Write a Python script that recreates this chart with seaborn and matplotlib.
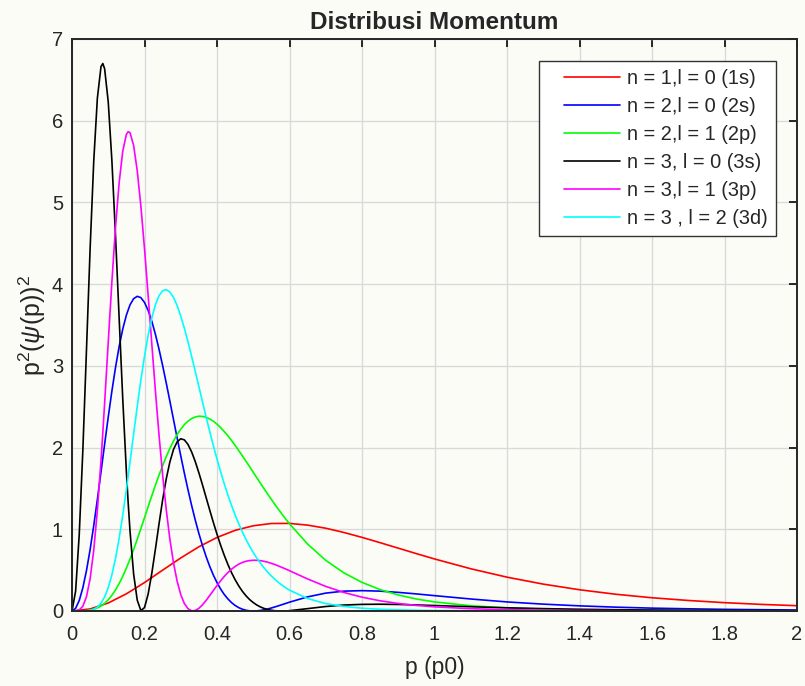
import matplotlib
matplotlib.use("Agg")
import matplotlib.pyplot as plt
from matplotlib.lines import Line2D
from matplotlib.legend_handler import HandlerLine2D
import numpy as np
import seaborn as sns

p_1s = [0, 0.05, 0.1, 0.15, 0.2, 0.25, 0.3, 0.35, 0.4, 0.45, 0.5, 0.55, 0.6, 0.65,
        0.7, 0.75, 0.8, 0.85, 0.9, 0.95, 1.0, 1.1, 1.2, 1.3, 1.4, 1.5, 1.6, 1.7,
        1.8, 1.9, 2.0]
p_grid = [0.00, 0.01, 0.02, 0.03, 0.04, 0.05, 0.06, 0.07, 0.08, 0.09,
          0.10, 0.11, 0.12, 0.13, 0.14, 0.15, 0.16, 0.17, 0.18, 0.19,
          0.20, 0.21, 0.22, 0.23, 0.24, 0.25, 0.26, 0.27, 0.28, 0.29,
          0.30, 0.31, 0.32, 0.33, 0.34, 0.35, 0.36, 0.37, 0.38, 0.39,
          0.40, 0.41, 0.42, 0.43, 0.44, 0.45, 0.46, 0.47, 0.48, 0.49,
          0.50, 0.51, 0.52, 0.53, 0.54, 0.55, 0.56, 0.57, 0.58, 0.59,
          0.60, 0.65, 0.70, 0.75, 0.80, 0.85, 0.90, 0.95, 1.00,
          1.1, 1.2, 1.3, 1.4, 1.5, 1.6, 1.7, 1.8, 1.9, 2.0]
# same, with two extra reads at the sharp n = 3 peaks
p_fine = [0.00, 0.01, 0.02, 0.03, 0.04, 0.05, 0.06, 0.07, 0.08, 0.085, 0.09,
          0.10, 0.11, 0.12, 0.13, 0.14, 0.15, 0.155, 0.16, 0.17, 0.18, 0.19,
          0.20, 0.21, 0.22, 0.23, 0.24, 0.25, 0.26, 0.27, 0.28, 0.29,
          0.30, 0.31, 0.32, 0.33, 0.34, 0.35, 0.36, 0.37, 0.38, 0.39,
          0.40, 0.41, 0.42, 0.43, 0.44, 0.45, 0.46, 0.47, 0.48, 0.49,
          0.50, 0.51, 0.52, 0.53, 0.54, 0.55, 0.56, 0.57, 0.58, 0.59,
          0.60, 0.65, 0.70, 0.75, 0.80, 0.85, 0.90, 0.95, 1.00,
          1.1, 1.2, 1.3, 1.4, 1.5, 1.6, 1.7, 1.8, 1.9, 2.0]

# p^2 |psi(p)|^2 for each state
prob_1s = [0, 0.025, 0.098, 0.210, 0.348, 0.500, 0.649, 0.786, 0.900, 0.987, 1.043,
           1.071, 1.072, 1.051, 1.013, 0.961, 0.901, 0.836, 0.769, 0.702, 0.637,
           0.517, 0.414, 0.329, 0.260, 0.205, 0.162, 0.129, 0.102, 0.081, 0.065]
prob_2s = [0, 0.033, 0.129, 0.285, 0.496, 0.752, 1.046, 1.366, 1.702, 2.042,
           2.374, 2.690, 2.979, 3.235, 3.450, 3.621, 3.746, 3.822, 3.851, 3.835,
           3.776, 3.679, 3.548, 3.388, 3.205, 3.004, 2.790, 2.569, 2.343, 2.119,
           1.899, 1.686, 1.483, 1.292, 1.113, 0.949, 0.800, 0.665, 0.545, 0.439,
           0.347, 0.269, 0.202, 0.148, 0.103, 0.068, 0.041, 0.022, 0.009, 0.002,
           0.000, 0.002, 0.007, 0.015, 0.025, 0.037, 0.050, 0.064, 0.079, 0.093,
           0.108, 0.173, 0.219, 0.243, 0.249, 0.243, 0.228, 0.209, 0.188,
           0.147, 0.111, 0.084, 0.063, 0.047, 0.035, 0.027, 0.020, 0.016, 0.012]
prob_2p = [0, 0.000, 0.000, 0.001, 0.004, 0.010, 0.021, 0.037, 0.061, 0.094,
           0.137, 0.192, 0.258, 0.335, 0.424, 0.525, 0.635, 0.753, 0.878, 1.009,
           1.141, 1.276, 1.408, 1.538, 1.662, 1.780, 1.889, 1.990, 2.079, 2.159,
           2.224, 2.281, 2.323, 2.355, 2.374, 2.384, 2.381, 2.371, 2.350, 2.323,
           2.286, 2.245, 2.196, 2.145, 2.087, 2.027, 1.963, 1.899, 1.833, 1.766,
           1.697, 1.630, 1.562, 1.496, 1.429, 1.366, 1.302, 1.241, 1.181, 1.123,
           1.067, 0.819, 0.620, 0.467, 0.350, 0.262, 0.196, 0.147, 0.111,
           0.064, 0.038, 0.023, 0.014, 0.009, 0.006, 0.004, 0.003, 0.002, 0.001]
prob_3s = [0, 0.244, 0.939, 1.978, 3.203, 4.437, 5.507, 6.277, 6.662, 6.700, 6.636,
           6.229, 5.515, 4.599, 3.590, 2.597, 1.707, 1.320, 0.981, 0.453, 0.132,
           0.005, 0.042, 0.206, 0.457, 0.754, 1.065, 1.359, 1.617, 1.824, 1.977,
           2.070, 2.108, 2.094, 2.038, 1.947, 1.829, 1.691, 1.543, 1.388, 1.234,
           1.083, 0.940, 0.805, 0.682, 0.570, 0.470, 0.383, 0.307, 0.241, 0.186,
           0.140, 0.103, 0.073, 0.049, 0.031, 0.018, 0.009, 0.003, 0.001, 0.000,
           0.001, 0.004, 0.029, 0.055, 0.073, 0.081, 0.083, 0.080, 0.074, 0.067,
           0.052, 0.039, 0.029, 0.021, 0.016, 0.012, 0.009, 0.007, 0.005, 0.004]
prob_3p = [0, 0.001, 0.012, 0.059, 0.176, 0.396, 0.745, 1.230, 1.841, 2.183, 2.544,
           3.292, 4.027, 4.694, 5.239, 5.626, 5.833, 5.866, 5.853, 5.697, 5.387,
           4.955, 4.435, 3.864, 3.276, 2.699, 2.157, 1.667, 1.239, 0.879, 0.589,
           0.365, 0.201, 0.091, 0.028, 0.002, 0.006, 0.033, 0.076, 0.130, 0.190,
           0.251, 0.312, 0.370, 0.423, 0.470, 0.511, 0.545, 0.573, 0.594, 0.609,
           0.617, 0.621, 0.620, 0.616, 0.608, 0.597, 0.583, 0.568, 0.550, 0.532,
           0.513, 0.493, 0.392, 0.301, 0.227, 0.169, 0.125, 0.092, 0.068, 0.051,
           0.028, 0.016, 0.010, 0.006, 0.004, 0.002, 0.002, 0.001, 0.001, 0.000]
prob_3d = [0, 0.000, 0.000, 0.000, 0.002, 0.008, 0.021, 0.048, 0.096, 0.173,
           0.286, 0.442, 0.642, 0.887, 1.171, 1.486, 1.822, 2.166, 2.505, 2.826,
           3.119, 3.374, 3.584, 3.746, 3.858, 3.919, 3.933, 3.903, 3.838, 3.738,
           3.609, 3.459, 3.294, 3.116, 2.933, 2.745, 2.559, 2.373, 2.196, 2.023,
           1.859, 1.703, 1.557, 1.420, 1.293, 1.175, 1.067, 0.967, 0.876, 0.792,
           0.716, 0.646, 0.584, 0.526, 0.475, 0.428, 0.386, 0.348, 0.314, 0.283,
           0.255, 0.152, 0.091, 0.056, 0.034, 0.021, 0.014, 0.009, 0.006,
           0.003, 0.001, 0.001, 0, 0, 0, 0, 0, 0, 0]

labels = ["n = 1,l = 0 (1s)", "n = 2,l = 0 (2s)", "n = 2,l = 1 (2p)",
          "n = 3, l = 0 (3s)", "n = 3,l = 1 (3p)", "n = 3 , l = 2 (3d)"]
colors = ["#ff0000", "#0000ff", "#00ff00", "#000000", "#ff00ff", "#00ffff"]

series = [(p_1s, prob_1s), (p_grid, prob_2s), (p_grid, prob_2p),
          (p_fine, prob_3s), (p_fine, prob_3p), (p_grid, prob_3d)]

sns.set_style("white")
plt.rcParams['font.family'] = ['Liberation Sans', 'DejaVu Sans']
plt.rcParams['mathtext.fontset'] = 'custom'
plt.rcParams['mathtext.rm'] = 'Liberation Sans'
plt.rcParams['mathtext.it'] = 'Liberation Sans:italic'

bg = '#fcfcf7'
dark = '#262626'
fig = plt.figure(figsize=(8.05, 6.86), dpi=100, facecolor=bg)
ax = fig.add_axes([72 / 805, 75 / 686, 725 / 805, 572 / 686], facecolor=bg)

for (px, py), lab, col in zip(series, labels, colors):
    sns.lineplot(x=px, y=py, color=col, label=lab, lw=1.2, sort=False,
                 estimator=None, ax=ax)

ax.set_xlim(0, 2)
ax.set_ylim(0, 7)
xt = np.round(np.arange(0, 2.01, 0.2), 1)
ax.set_xticks(xt)
ax.set_xticklabels([f"{v:g}" for v in xt])
ax.set_yticks(range(8))
ax.grid(True, color='#d9d9d9', lw=1.0)
ax.set_axisbelow(True)
for sp in ax.spines.values():
    sp.set_visible(True)
    sp.set_color(dark)
    sp.set_linewidth(1.4)
ax.tick_params(axis='both', direction='in', length=6, width=1.4, color=dark,
               labelcolor=dark, labelsize=14.5, top=True, right=True)
ax.tick_params(axis='x', pad=10)
ax.tick_params(axis='y', pad=6.5)

ax.set_title("Distribusi Momentum", fontsize=17.5, fontweight='bold', pad=7)
ax.set_xlabel("p (p0)", fontsize=16.5, color=dark, labelpad=9)
ax.set_ylabel(r"p$^2$($\psi$(p))$^2$", fontsize=18, color=dark, labelpad=3)

handles, labs = ax.get_legend_handles_labels()
leg = ax.legend(handles, labs, loc='upper right',
                bbox_to_anchor=((776 - 72) / 725, (611 - 61) / 572),
                borderaxespad=0, fontsize=14.4, frameon=True, fancybox=False,
                edgecolor='#333333', framealpha=1, facecolor='white',
                borderpad=0.4, labelspacing=0.45, handlelength=3.65,
                handletextpad=0.35,
                handler_map={Line2D: HandlerLine2D(xpad=0.85)})
leg.get_frame().set_linewidth(1.0)

fig.savefig("out.png", dpi=100, facecolor=bg)
